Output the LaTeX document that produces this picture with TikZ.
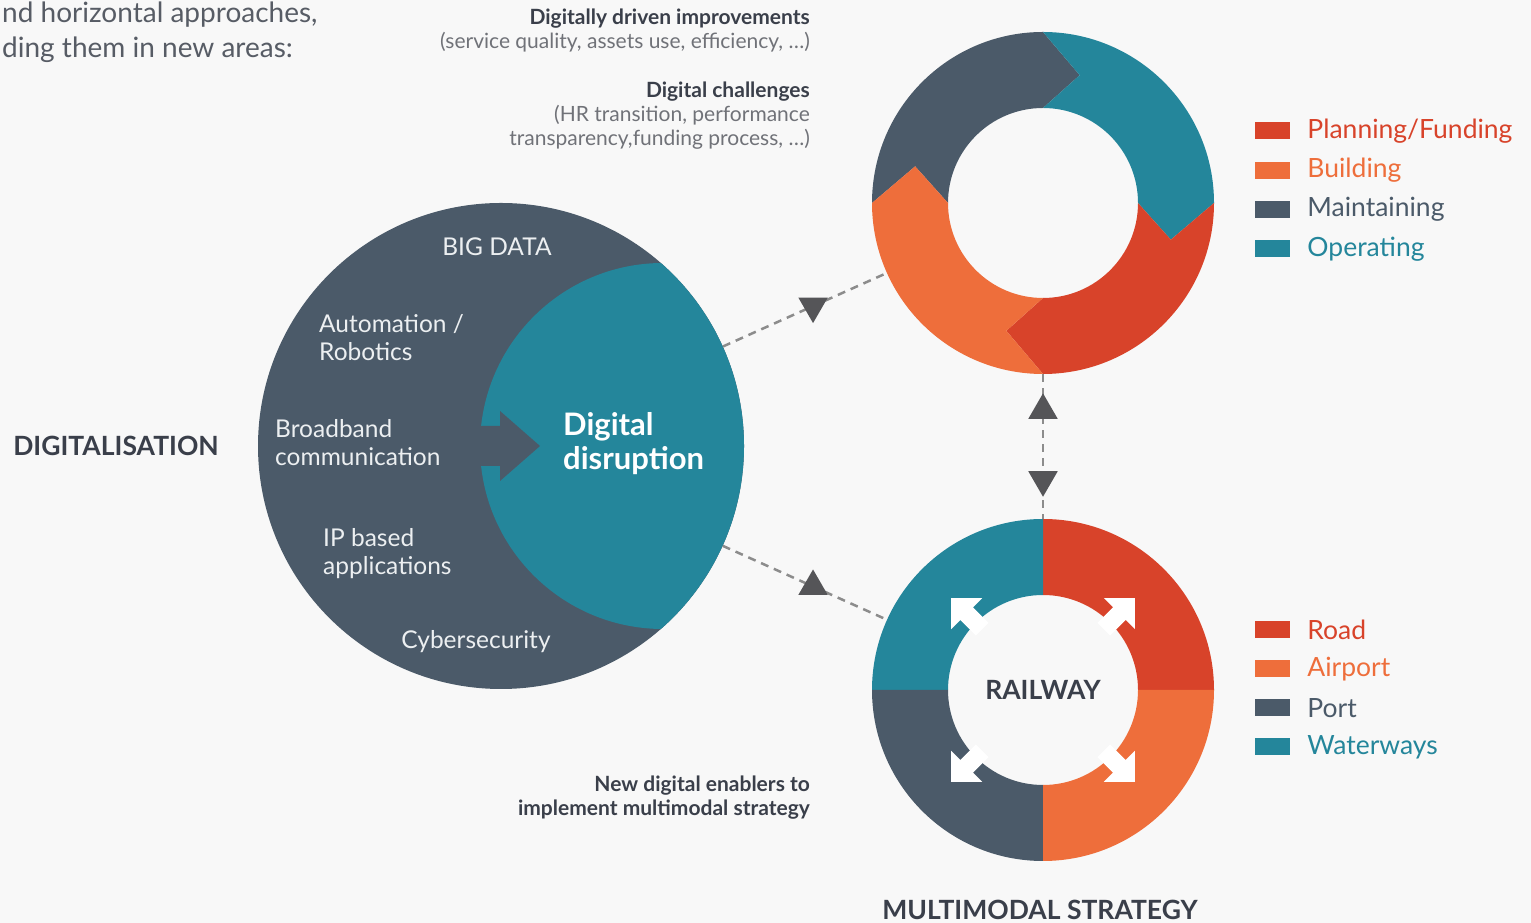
\documentclass[tikz,border=0pt]{standalone}
\usepackage{fontspec}
\setmainfont{Lato}
\usetikzlibrary{positioning,shapes.geometric}

\definecolor{bgcol}{HTML}{F8F8F8}
\definecolor{ptred}{HTML}{D8432A}
\definecolor{ptorange}{HTML}{EE6E3B}
\definecolor{ptgray}{HTML}{4B5A69}
\definecolor{ptteal}{HTML}{24869B}
\definecolor{ptdark}{HTML}{3A3F4A}
\definecolor{subgray}{HTML}{707278}
\definecolor{inwhite}{HTML}{ECEFF1}
\definecolor{linkgray}{HTML}{8C8C8C}
\definecolor{trigray}{HTML}{555558}

\tikzset{
	blob/.style={circle, inner sep=0pt, minimum size=#1},
	intext/.style={text=inwhite, font=\fontsize{24.5}{28}\selectfont, align=left, inner sep=0pt},
	link/.style={draw=linkgray, line width=2.5pt, dash pattern=on 8pt off 6pt},
	triup/.style={regular polygon, regular polygon sides=3, fill=trigray, inner sep=0pt, minimum size=34pt},
	tridown/.style={triup, shape border rotate=180},
	legbox/.style={fill=#1, minimum width=35pt, minimum height=17pt, inner sep=0pt},
	legtext/.style={text=#1, font=\fontsize{26.5}{30}\selectfont, inner sep=0pt},
	note/.style={align=right, anchor=east, inner sep=0pt, font=\fontsize{21}{24}\selectfont},
	heading/.style={text=ptdark, font=\bfseries\fontsize{26.5}{30}\selectfont, inner sep=0pt}
}

% one piece of the life cycle ring, #1 = start angle
\newcommand{\cycleseg}[2]{%
	\fill[#2] (#1:171pt) arc[start angle=#1, end angle={#1-90}, radius=171pt]
		-- ({#1-106}:133pt) -- ({#1-90}:95pt)
		arc[start angle={#1-90}, end angle=#1, radius=95pt]
		-- ({#1-16}:133pt) -- cycle;}

\begin{document}
\begin{tikzpicture}[x=1pt, y=1pt]
	\fill[bgcol] (0,0) rectangle (1531,923);
	\useasboundingbox (0,0) rectangle (1531,923);

	\node[anchor=west, text=ptdark!85, font=\fontsize{28}{30}\selectfont, inner sep=0pt] (introa) at (2,908) {nd horizontal approaches,};
	\node[anchor=west, text=ptdark!85, font=\fontsize{28}{30}\selectfont, inner sep=0pt] (introb) at (2,873) {ding them in new areas:};

	% digitalisation circle
	\node[blob=486pt, fill=ptgray] (lc) at (501,477) {};
	\begin{scope}
		\clip (lc.center) circle[radius=243pt];
		\fill[ptteal] (663,477) circle[radius=183pt];
	\end{scope}
	\fill[ptgray] (470,497) -- (500,497) -- (500,512) -- (540,477) -- (500,442) -- (500,457) -- (470,457) -- cycle;

	\node[intext] (bigdata) at (497,676) {BIG DATA};
	\node[intext, anchor=west] (robot) at (319,585) {Automation /\\Robotics};
	\node[intext, anchor=west] (broad) at (275,480) {Broadband\\communication};
	\node[intext, anchor=west] (ipapp) at (323,369) {IP based\\applications};
	\node[intext] (cyber) at (476,281) {Cybersecurity};
	\node[intext, anchor=west, text=white, font=\bfseries\fontsize{31}{34}\selectfont] (disrupt) at (563,479) {Digital\\disruption};
	\node[heading] (digit) at (116,477) {DIGITALISATION};

	% life cycle ring
	\node[blob=342pt] (tr) at (1043,720) {};
	\begin{scope}[shift={(tr.center)}]
		\cycleseg{180}{ptgray}
		\cycleseg{90}{ptteal}
		\cycleseg{0}{ptred}
		\cycleseg{-90}{ptorange}
	\end{scope}

	% multimodal ring
	\node[blob=342pt] (br) at (1043,233) {};
	\begin{scope}[shift={(br.center)}]
		\fill[ptred] (0:171pt) arc[start angle=0, end angle=90, radius=171pt] -- (90:95pt) arc[start angle=90, end angle=0, radius=95pt] -- cycle;
		\fill[ptteal] (90:171pt) arc[start angle=90, end angle=180, radius=171pt] -- (180:95pt) arc[start angle=180, end angle=90, radius=95pt] -- cycle;
		\fill[ptgray] (180:171pt) arc[start angle=180, end angle=270, radius=171pt] -- (270:95pt) arc[start angle=270, end angle=180, radius=95pt] -- cycle;
		\fill[ptorange] (270:171pt) arc[start angle=270, end angle=360, radius=171pt] -- (0:95pt) arc[start angle=0, end angle=-90, radius=95pt] -- cycle;
		\foreach \a in {45,135,225,315}
			\fill[white, rotate=\a] (130pt,0) -- (108pt,22pt) -- (108pt,9pt) -- (86pt,9pt) -- (86pt,-9pt) -- (108pt,-9pt) -- (108pt,-22pt) -- cycle;
	\end{scope}
	\node[heading] (rail) at (br.center) {RAILWAY};
	\node[heading] (multi) at (1040,13) {MULTIMODAL STRATEGY};

	% connectors
	\draw[link] (lc) -- node[tridown, pos=0.55] (ta) {} (tr);
	\draw[link] (lc) -- node[triup, pos=0.55] (tb) {} (br);
	\draw[link] (tr) -- node[triup, pos=0.25] (tc) {} node[tridown, pos=0.73] (td) {} (br);

	% notes
	\node[note] (improve) at (810,892) {\textcolor{ptdark}{\bfseries Digitally driven improvements}\\ \textcolor{subgray}{(service quality, assets use, efficiency, …)}};
	\node[note] (challenge) at (810,807) {\textcolor{ptdark}{\bfseries Digital challenges}\\ \textcolor{subgray}{(HR transition, performance}\\ \textcolor{subgray}{transparency,funding process, …)}};
	\node[note] (enable) at (810,125) {\textcolor{ptdark}{\bfseries New digital enablers to}\\ \textcolor{ptdark}{\bfseries implement multimodal strategy}};

	% legends
	\foreach \c/\t [count=\i] in {ptred/Planning\slash Funding, ptorange/Building, ptgray/Maintaining, ptteal/Operating} {
		\node[legbox=\c] (pbox\i) at (1272.5,{792-39.3*(\i-1)}) {};
		\node[legtext=\c, right=17pt of pbox\i] (ptext\i) {\t};
	}
	\foreach \c/\t [count=\i] in {ptred/Road, ptorange/Airport, ptgray/Port, ptteal/Waterways} {
		\node[legbox=\c] (mbox\i) at (1272.5,{293-39*(\i-1)}) {};
		\node[legtext=\c, right=17pt of mbox\i] (mtext\i) {\t};
	}
\end{tikzpicture}
\end{document}
